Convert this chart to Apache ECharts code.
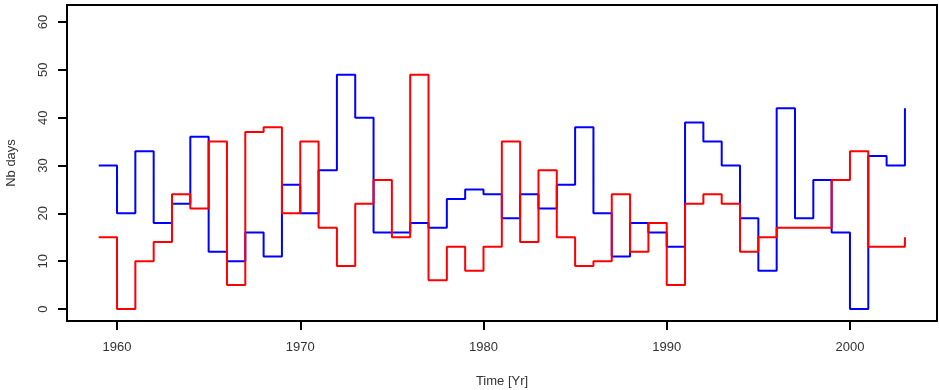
<!DOCTYPE html>
<html>
<head>
<meta charset="utf-8">
<script src="https://cdn.jsdelivr.net/npm/echarts@6/dist/echarts.min.js"></script>
<style>
html,body{margin:0;padding:0;background:#fff;}
#chart{width:939px;height:390px;}
</style>
</head>
<body>
<div id="chart"></div>
<script>
const years = [1959,1960,1961,1962,1963,1964,1965,1966,1967,1968,1969,1970,1971,1972,1973,1974,1975,1976,1977,1978,1979,1980,1981,1982,1983,1984,1985,1986,1987,1988,1989,1990,1991,1992,1993,1994,1995,1996,1997,1998,1999,2000,2001,2002,2003];
const blueValues = [30,20,33,18,22,36,12,10,16,11,26,20,29,49,40,16,16,18,17,23,25,24,19,24,21,26,38,20,11,18,16,13,39,35,30,19,8,42,19,27,16,0,32,30,42];
const redValues = [15,0,10,14,24,21,35,5,37,38,20,35,17,9,22,27,15,49,6,13,8,13,35,14,29,15,9,10,24,12,18,5,22,24,22,12,15,17,17,17,27,33,13,13,15];
const xTicks = [1960,1970,1980,1990,2000];
const yTicks = [0,10,20,30,40,50,60];

const chart = echarts.init(document.getElementById('chart'), null, {renderer:'canvas'});
const font = '"Liberation Sans", Arial, sans-serif';
const pair = v => years.map((y,i)=>[y, v[i]]);
chart.setOption({
  animation:false,
  backgroundColor:'#fff',
  grid:{left:67, right:2, top:5, bottom:69, show:true, borderColor:'#000', borderWidth:2, backgroundColor:'transparent', containLabel:false, outerBoundsMode:'none'},
  xAxis:{
    type:'value', min:1957.27, max:2004.75,
    name:'Time [Yr]', nameLocation:'middle', nameGap:54,
    nameTextStyle:{fontFamily:font, fontSize:13, color:'#333'},
    axisLine:{show:false, onZero:false},
    splitLine:{show:false},
    axisTick:{show:true, customValues:xTicks, length:9, lineStyle:{color:'#000', width:2}},
    axisLabel:{customValues:xTicks, margin:20, fontFamily:font, fontSize:13, color:'#333', formatter:v=>String(v)}
  },
  yAxis:{
    type:'value', min:-2.5, max:63.56,
    name:'Nb days', nameLocation:'middle', nameGap:49, nameRotate:90,
    nameTextStyle:{fontFamily:font, fontSize:13, color:'#333'},
    axisLine:{show:false, onZero:false},
    splitLine:{show:false},
    axisTick:{show:true, customValues:yTicks, length:9, lineStyle:{color:'#000', width:2}},
    axisLabel:{customValues:yTicks, rotate:90, margin:17, fontFamily:font, fontSize:13, color:'#333', formatter:v=>String(v)}
  },
  series:[
    {type:'line', step:'end', data:pair(blueValues), showSymbol:false, lineStyle:{color:'#0000ff', width:2}, itemStyle:{color:'#0000ff'}},
    {type:'line', step:'end', data:pair(redValues), showSymbol:false, lineStyle:{color:'#ff0000', width:2}, itemStyle:{color:'#ff0000'}}
  ]
});
</script>
</body>
</html>
